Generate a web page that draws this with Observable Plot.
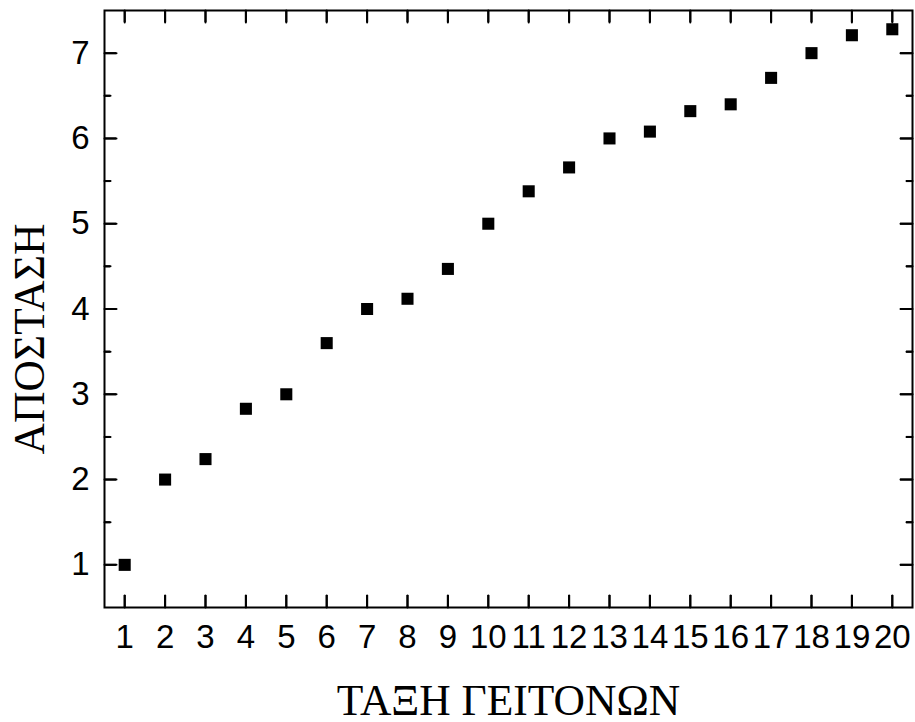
<!DOCTYPE html>
<html>
<head>
<meta charset="utf-8">
<script src="https://cdn.jsdelivr.net/npm/d3@7"></script>
<script src="https://cdn.jsdelivr.net/npm/@observablehq/plot@0.6"></script>
<style>
  html, body { margin: 0; padding: 0; background: #fff; }
  #chart svg { display: block; }
</style>
</head>
<body>
<div id="chart"></div>
<script>
// Neighbour order (x) and distance (y)
const order = [1, 2, 3, 4, 5, 6, 7, 8, 9, 10, 11, 12, 13, 14, 15, 16, 17, 18, 19, 20];
const distance = [1, 2, 2.24, 2.83, 3, 3.6, 4, 4.12, 4.47, 5, 5.38, 5.66, 6, 6.08, 6.32, 6.4, 6.71, 7, 7.21, 7.28];
const xTicks = [1, 2, 3, 4, 5, 6, 7, 8, 9, 10, 11, 12, 13, 14, 15, 16, 17, 18, 19, 20];
const yTicks = [1, 2, 3, 4, 5, 6, 7];
const yMinorTicks = [1.5, 2.5, 3.5, 4.5, 5.5, 6.5];
const xTitle = "ΤΑΞΗ ΓΕΙΤΟΝΩΝ";
const yTitle = "ΑΠΟΣΤΑΣΗ";

const data = order.map((o, i) => ({order: o, distance: distance[i]}));

const sans = "'Liberation Sans', Arial, sans-serif";
const serif = "'Liberation Serif', 'Times New Roman', serif";

const W = 915, H = 722, mL = 104, mT = 10, mR = 3, mB = 115;
const innerW = W - mL - mR, innerH = H - mT - mB;
const major = 12, minor = 6;
const rule = {stroke: "black", strokeWidth: 2};
const tickShape = {draw(context, l) { context.moveTo(0, 0); context.lineTo(0, -l); }};
const vec = {shape: tickShape, anchor: "start", stroke: "black", strokeWidth: 2};

const chart = Plot.plot({
  width: W,
  height: H,
  marginLeft: mL,
  marginTop: mT,
  marginRight: mR,
  marginBottom: mB,
  style: {background: "white", color: "black", fontSize: "33px", fontFamily: sans},
  x: {domain: [0.5, 20.5], ticks: xTicks, tickSize: 0, tickPadding: 17, tickFormat: d => String(d), label: null},
  y: {domain: [0.5, 7.5], ticks: yTicks, tickSize: 0, tickPadding: 15, tickFormat: d => String(d), label: null},
  marks: [
    // inward ticks
    Plot.vector(xTicks, {...vec, x: d => d, frameAnchor: "bottom", length: major, rotate: 0}),
    Plot.vector(xTicks, {...vec, x: d => d, frameAnchor: "top", length: major, rotate: 180}),
    Plot.vector(yTicks, {...vec, y: d => d, frameAnchor: "left", length: major, rotate: 90}),
    Plot.vector(yMinorTicks, {...vec, y: d => d, frameAnchor: "left", length: minor, rotate: 90}),
    Plot.vector(yTicks, {...vec, y: d => d, frameAnchor: "right", length: major, rotate: -90}),
    Plot.vector(yMinorTicks, {...vec, y: d => d, frameAnchor: "right", length: minor, rotate: -90}),
    Plot.ruleX(xTicks, {...rule, x: d => d, insetTop: innerH - major}),
    Plot.ruleX(xTicks, {...rule, x: d => d, insetBottom: innerH - major}),
    Plot.ruleY(yTicks, {...rule, y: d => d, insetRight: innerW - major}),
    Plot.ruleY(yMinorTicks, {...rule, y: d => d, insetRight: innerW - minor}),
    Plot.ruleY(yTicks, {...rule, y: d => d, insetLeft: innerW - major}),
    Plot.ruleY(yMinorTicks, {...rule, y: d => d, insetLeft: innerW - minor}),
    Plot.frame({stroke: "black", strokeWidth: 2}),
    // data
    Plot.dot(data, {x: "order", y: "distance", symbol: "square", r: 6.8, fill: "black", stroke: "none"}),
    // axis titles
    Plot.text([xTitle], {frameAnchor: "bottom", lineAnchor: "bottom", textAnchor: "middle", dy: 107,
      fontSize: 43.5, fontFamily: serif, fill: "black"}),
    Plot.text([yTitle], {frameAnchor: "left", lineAnchor: "bottom", textAnchor: "middle", rotate: -90, dx: -61, dy: 30,
      fontSize: 43.5, fontFamily: serif, fill: "black"})
  ]
});

document.getElementById("chart").appendChild(chart);
</script>
</body>
</html>
